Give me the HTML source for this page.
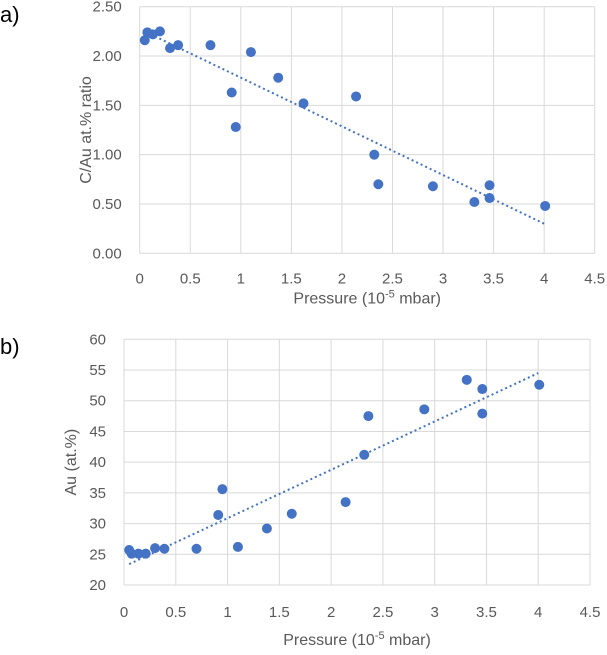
<!DOCTYPE html>
<html><head><meta charset="utf-8"><style>
body{margin:0;background:#fff;width:607px;height:650px;overflow:hidden;font-family:"Liberation Sans",sans-serif}
svg text{font-family:"Liberation Sans",sans-serif;fill:#595959}
</style></head><body>
<svg id="s" width="607" height="650"></svg>
<script>
const xTicks=[0,0.5,1,1.5,2,2.5,3,3.5,4,4.5];
const aYTicks=[0,0.5,1,1.5,2,2.5];
const aX=[0.05,0.076,0.13,0.20,0.30,0.38,0.70,1.10,0.91,0.95,1.37,1.62,2.14,2.32,2.36,2.90,3.31,3.46,3.46,4.01];
const aY=[2.16,2.24,2.22,2.25,2.08,2.11,2.11,2.04,1.63,1.28,1.78,1.52,1.59,1.00,0.70,0.68,0.52,0.69,0.56,0.48];
const aTrendX=[0.15,4.0];
const aTrendY=[2.20,0.30];
const bYTicks=[20,25,30,35,40,45,50,55,60];
const bX=[0.05,0.074,0.14,0.21,0.30,0.39,0.70,0.91,0.95,1.10,1.38,1.62,2.14,2.32,2.36,2.90,3.31,3.46,3.46,4.01];
const bY=[25.7,25.1,25.1,25.1,26.0,25.9,25.9,31.4,35.6,26.2,29.2,31.6,33.5,41.2,47.5,48.6,53.4,51.9,47.9,52.6];
const bTrendX=[0.05,4.0];
const bTrendY=[23.4,54.5];
const NS='http://www.w3.org/2000/svg';
const svg=document.getElementById('s');
function mk(t,a,p){const e=document.createElementNS(NS,t);for(const k in a)e.setAttribute(k,a[k]);(p||svg).appendChild(e);return e;}
function chart(o){
  const g=mk('g',{});
  
  
  const sx=v=>o.x0+(v-o.xmin)/(o.xmax-o.xmin)*(o.x1-o.x0);
  const sy=v=>o.y0-(v-o.ymin)/(o.ymax-o.ymin)*(o.y0-o.y1);
  xTicks.forEach(t=>{
    const l=mk('line',{x1:sx(t),x2:sx(t),y1:o.y1,y2:o.y0,stroke:'#d9d9d9','stroke-width':1},g);
    
    
    const tx=mk('text',{x:sx(t),y:o.y0+o.xlo,'text-anchor':'middle','font-size':15},g);
    
    
    tx.textContent=t;
  });
  o.yt.forEach(t=>{
    const l=mk('line',{x1:o.x0,x2:o.x1,y1:sy(t),y2:sy(t),stroke:'#d9d9d9','stroke-width':1},g);
    
    
    const tx=mk('text',{x:o.x0-18,y:sy(t)+5,'text-anchor':'end','font-size':15},g);
    
    
    tx.textContent=o.fmt(t);
  });
  const tl=mk('line',{x1:sx(o.tx[0]),y1:sy(o.ty[0]),x2:sx(o.tx[1]),y2:sy(o.ty[1]),stroke:'#4472c4','stroke-width':2,'stroke-dasharray':'2 3'},g);
  
  
  o.xs.forEach((v,i)=>{
    const c=mk('circle',{cx:sx(v),cy:sy(o.ys[i]),r:5,fill:'#4472c4'},g);
    
    
  });
  const xt=mk('text',{x:(o.x0+sx(4.5))/2,y:o.y0+o.xto,'text-anchor':'middle','font-size':16},g);
  
  
  xt.innerHTML='Pressure (10<tspan dy="-6" font-size="11">-5</tspan><tspan dy="6"> mbar)</tspan>';
  const yt=mk('text',{x:0,y:0,'text-anchor':'middle','font-size':16,transform:`translate(${o.ytx},${(o.y0+o.y1)/2}) rotate(-90)`},g);
  
  
  yt.textContent=o.ytitle;
  const pl=mk('text',{x:0,y:o.py,'font-size':22,style:'fill:#000'},g);
  
  
  pl.textContent=o.panel;
}
chart({name:'chart-a',x0:139.7,x1:594.7,xmin:0,xmax:4.5,y0:253.3,y1:6.7,ymin:0,ymax:2.5,yt:aYTicks,fmt:v=>v.toFixed(2),xs:aX,ys:aY,tx:aTrendX,ty:aTrendY,ytitle:'C/Au at.% ratio',ytx:91,panel:'a)',py:22,xlo:30,xto:50});
chart({name:'chart-b',x0:124,x1:590,xmin:0,xmax:4.5,y0:585,y1:339.3,ymin:20,ymax:60,yt:bYTicks,fmt:v=>v,xs:bX,ys:bY,tx:bTrendX,ty:bTrendY,ytitle:'Au (at.%)',ytx:76,panel:'b)',py:354,xlo:32,xto:60});
</script>
</body></html>
